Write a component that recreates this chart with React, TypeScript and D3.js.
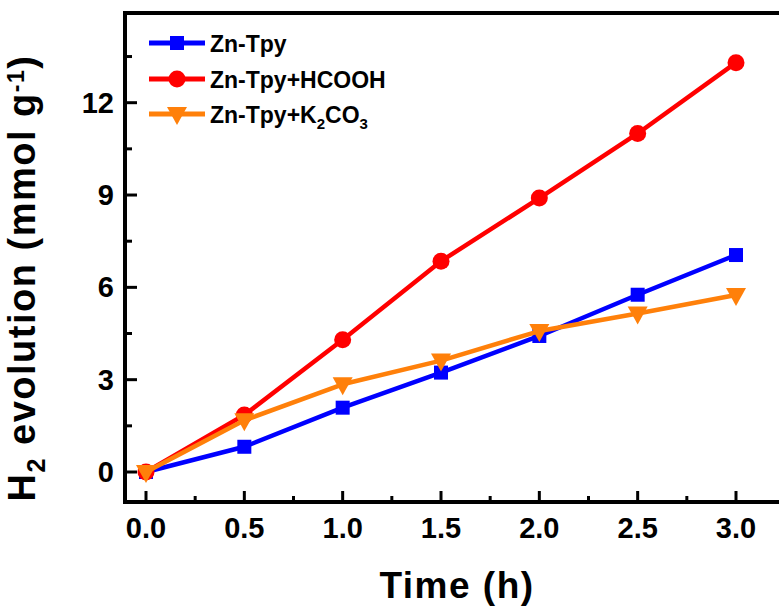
import React, { useRef, useEffect } from 'react';
import * as d3 from 'd3';

// chart data
const times = [0, 0.5, 1.0, 1.5, 2.0, 2.5, 3.0];
const znTpy = [0, 0.82, 2.09, 3.23, 4.42, 5.76, 7.05];
const znTpyHcooh = [0, 1.85, 4.3, 6.85, 8.9, 11.0, 13.3];
const znTpyK2co3 = [0, 1.68, 2.85, 3.62, 4.58, 5.15, 5.75];
const xTicks = [0, 0.5, 1.0, 1.5, 2.0, 2.5, 3.0];
const xMinorTicks = [0.25, 0.75, 1.25, 1.75, 2.25, 2.75];
const yTicks = [0, 3, 6, 9, 12];
const yMinorTicks = [1.5, 4.5, 7.5, 10.5, 13.5];

const W = 779;
const H = 611;
const FONT = '"Liberation Sans", Arial, sans-serif';

type Series = { name: string; sub?: boolean; color: string; marker: 'square' | 'circle' | 'triangle'; values: number[] };

const series: Series[] = [
  { name: 'Zn-Tpy', color: '#0000ff', marker: 'square', values: znTpy },
  { name: 'Zn-Tpy+HCOOH', color: '#ff0000', marker: 'circle', values: znTpyHcooh },
  { name: 'Zn-Tpy+K2CO3', sub: true, color: '#ff800a', marker: 'triangle', values: znTpyK2co3 },
];

function drawMarker(g: any, type: string, cx: number, cy: number, color: string) {
  if (type === 'square') {
    g.append('rect')
      .attr('x', cx - 7).attr('y', cy - 7)
      .attr('width', 14).attr('height', 14)
      .attr('fill', color);
  } else if (type === 'circle') {
    g.append('circle').attr('cx', cx).attr('cy', cy).attr('r', 8.5).attr('fill', color);
  } else {
    g.append('path')
      .attr('d', `M${cx - 10},${cy - 7} L${cx + 10},${cy - 7} L${cx},${cy + 11} Z`)
      .attr('fill', color);
  }
}

function App() {
  const svgRef = useRef<SVGSVGElement>(null);

  useEffect(() => {
    const svg = d3.select(svgRef.current);
    svg.selectAll('*').remove();

    const left = 125;
    const bottom = 502;
    const top = 13;

    // 0 -> 146, 3 -> 736
    const x = d3.scaleLinear().domain([0, 3]).range([146, 736]);
    // 0 -> 472, 12 -> 102.7
    const y = d3.scaleLinear().domain([0, 12]).range([472, 102.7]);

    svg.append('rect').attr('width', W).attr('height', H).attr('fill', '#fff');

    // frame: left, top, bottom (right side is cut off)
    const axis = svg.append('g').attr('stroke', '#000').attr('stroke-width', 4);
    axis.append('line').attr('x1', left).attr('x2', left).attr('y1', top - 2).attr('y2', bottom + 2);
    axis.append('line').attr('x1', left - 2).attr('x2', W).attr('y1', top).attr('y2', top);
    axis.append('line').attr('x1', left - 2).attr('x2', W).attr('y1', bottom).attr('y2', bottom);

    const ticks = svg.append('g').attr('stroke', '#000').attr('stroke-width', 3);
    xTicks.forEach(t => {
      ticks.append('line').attr('x1', x(t)).attr('x2', x(t)).attr('y1', bottom).attr('y2', bottom - 11);
    });
    xMinorTicks.forEach(t => {
      ticks.append('line').attr('x1', x(t)).attr('x2', x(t)).attr('y1', bottom).attr('y2', bottom - 6);
    });
    yTicks.forEach(t => {
      ticks.append('line').attr('x1', left).attr('x2', left + 12).attr('y1', y(t)).attr('y2', y(t));
    });
    yMinorTicks.forEach(t => {
      ticks.append('line').attr('x1', left).attr('x2', left + 7).attr('y1', y(t)).attr('y2', y(t));
    });

    // tick labels
    svg.append('g')
      .selectAll('text')
      .data(xTicks)
      .enter()
      .append('text')
      .attr('x', d => x(d))
      .attr('y', 538)
      .attr('text-anchor', 'middle')
      .attr('font-family', FONT)
      .attr('font-weight', 'bold')
      .attr('font-size', 29)
      .text(d => d.toFixed(1));

    svg.append('g')
      .selectAll('text')
      .data(yTicks)
      .enter()
      .append('text')
      .attr('x', 114)
      .attr('y', d => y(d) + 10)
      .attr('text-anchor', 'end')
      .attr('font-family', FONT)
      .attr('font-weight', 'bold')
      .attr('font-size', 29)
      .text(d => String(d));

    // axis titles
    svg.append('text')
      .attr('x', 457)
      .attr('y', 598)
      .attr('text-anchor', 'middle')
      .attr('font-family', FONT)
      .attr('font-weight', 'bold')
      .attr('font-size', 37)
      .attr('letter-spacing', 1.5)
      .text('Time (h)');

    const yt = svg.append('text')
      .attr('transform', 'translate(35,278) rotate(-90)')
      .attr('text-anchor', 'middle')
      .attr('font-family', FONT)
      .attr('font-weight', 'bold')
      .attr('font-size', 38)
      .attr('letter-spacing', 1.5);
    yt.append('tspan').text('H');
    yt.append('tspan').attr('font-size', 25).attr('dy', 10).text('2');
    yt.append('tspan').attr('dy', -10).text(' evolution (mmol g');
    yt.append('tspan').attr('font-size', 23).attr('dy', -11).text('-1');
    yt.append('tspan').attr('dy', 11).text(')');

    // series
    const line = d3.line<number>()
      .x((_, i) => x(times[i]))
      .y(d => y(d));

    series.forEach(s => {
      const g = svg.append('g');
      g.append('path')
        .datum(s.values)
        .attr('d', line)
        .attr('fill', 'none')
        .attr('stroke', s.color)
        .attr('stroke-width', 4.5)
        .attr('stroke-linejoin', 'round');
      s.values.forEach((v, i) => drawMarker(g, s.marker, x(times[i]), y(v), s.color));
    });

    // legend
    const legendRows = [43, 79, 114];
    series.forEach((s, i) => {
      const ly = legendRows[i];
      const g = svg.append('g');
      g.append('line')
        .attr('x1', 149).attr('x2', 205)
        .attr('y1', ly).attr('y2', ly)
        .attr('stroke', s.color).attr('stroke-width', 5);
      drawMarker(g, s.marker, 177, ly, s.color);
      const t = g.append('text')
        .attr('x', 210)
        .attr('y', ly + 9)
        .attr('font-family', FONT)
        .attr('font-weight', 'bold')
        .attr('font-size', 23);
      if (s.sub) {
        t.append('tspan').text('Zn-Tpy+K');
        t.append('tspan').attr('font-size', 15).attr('dy', 6).text('2');
        t.append('tspan').attr('dy', -6).text('CO');
        t.append('tspan').attr('font-size', 15).attr('dy', 6).text('3');
      } else {
        t.text(s.name);
      }
    });
  }, []);

  return (
    <svg
      ref={svgRef}
      width={W}
      height={H}
      style={{ position: 'absolute', left: 0, top: 0, display: 'block' }}
    />
  );
}

export default App;
